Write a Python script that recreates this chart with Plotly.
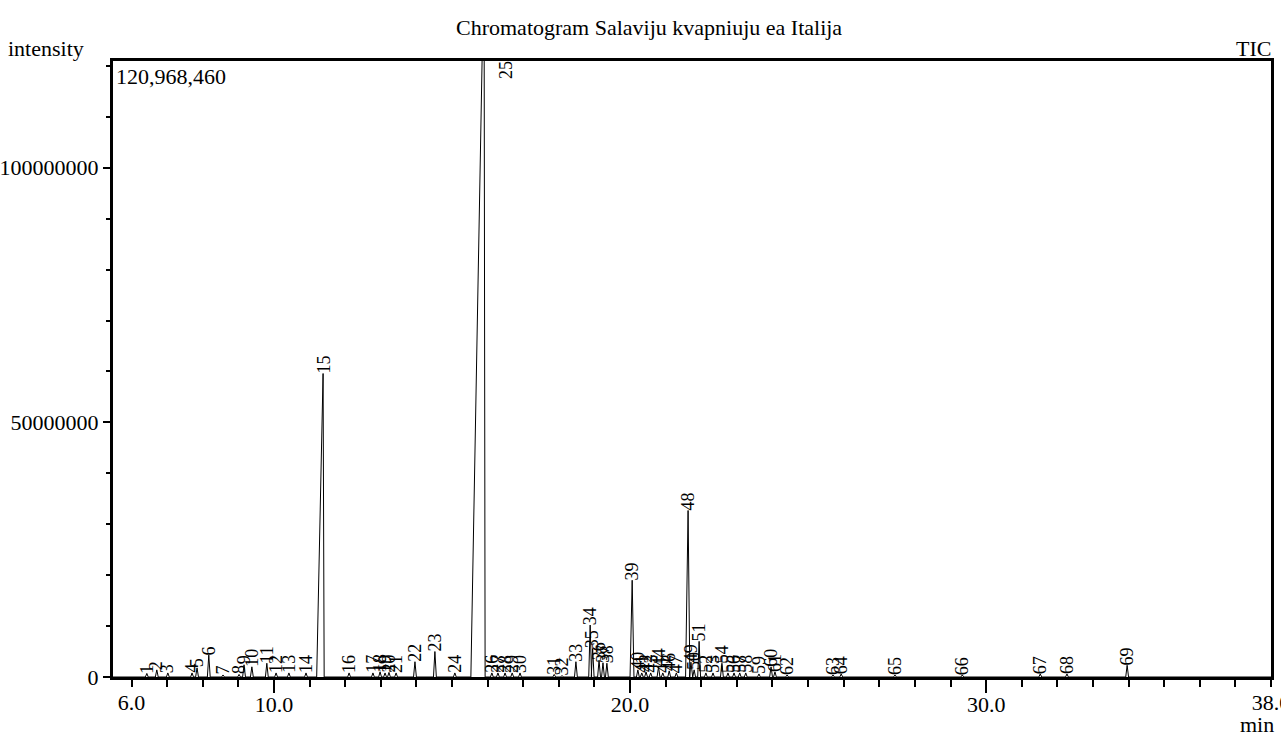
import plotly.graph_objects as go

# ---- data ----
peak_no = list(range(1, 70))
peak_rt = [6.43, 6.71, 7.02, 7.70, 7.84, 8.17, 8.57, 9.02, 9.16, 9.38,
           9.80, 10.06, 10.42, 10.90, 11.38, 12.11, 12.78, 12.98, 13.12, 13.23,
           13.43, 13.96, 14.52, 15.08, 15.90, 16.12, 16.29, 16.49, 16.69, 16.91,
           17.87, 18.09, 18.48, 18.88, 18.95, 19.13, 19.24, 19.35, 20.06, 20.22,
           20.33, 20.45, 20.58, 20.80, 20.92, 21.10, 21.30, 21.63, 21.71, 21.80,
           21.94, 22.13, 22.33, 22.58, 22.75, 22.92, 23.08, 23.25, 23.62, 23.96,
           24.07, 24.41, 25.70, 25.93, 27.44, 29.33, 31.52, 32.27, 33.96]
peak_height = [0.7e6, 1.4e6, 0.8e6, 0.8e6, 1.8e6, 4.3e6, 0.4e6, 0.5e6, 2.4e6, 2.0e6,
               2.7e6, 0.8e6, 0.8e6, 0.8e6, 59.6e6, 0.8e6, 0.8e6, 1.0e6, 0.8e6, 0.9e6,
               0.8e6, 3.0e6, 5.0e6, 0.8e6, 142e6, 0.8e6, 0.8e6, 0.8e6, 0.8e6, 0.8e6,
               0.5e6, 0.3e6, 3.0e6, 10.2e6, 5.6e6, 3.3e6, 2.8e6, 2.7e6, 19.0e6, 1.4e6,
               0.8e6, 1.0e6, 0.8e6, 2.0e6, 0.8e6, 1.2e6, 0.8e6, 32.7e6, 2.9e6, 1.4e6,
               7.0e6, 0.8e6, 0.8e6, 2.7e6, 0.8e6, 0.8e6, 0.8e6, 0.8e6, 0.6e6, 2.0e6,
               1.0e6, 0.4e6, 0.4e6, 0.6e6, 0.4e6, 0.4e6, 0.6e6, 0.6e6, 2.3e6]
# leading (front) and trailing widths of each peak, minutes
peak_lead = {15: 0.18, 25: 0.37, 39: 0.06, 48: 0.07}
peak_fall = {15: 0.03, 25: 0.03, 39: 0.05, 48: 0.05}
default_width = 0.04

run_start, run_end = 5.48, 38.0
y_max = 120968460

x_ticks = [10, 20, 30]
x_ticktext = ["10.0", "20.0", "30.0"]
x_end_ticks = [6, 38]
x_end_ticktext = ["6.0", "38.0"]
y_ticks = [0, 50000000, 100000000]
y_ticktext = ["0", "50000000", "100000000"]

title_text = "Chromatogram Salaviju kvapniuju ea Italija"

# ---- build the trace from the peak table ----
xs, ys = [run_start], [0]
for n, rt, h in zip(peak_no, peak_rt, peak_height):
    lead = peak_lead.get(n, default_width)
    fall = peak_fall.get(n, default_width)
    xs += [rt - lead, rt, rt + fall]
    ys += [0, h, 0]
xs.append(run_end)
ys.append(0)

FONT = "Liberation Serif"
fig = go.Figure()
fig.add_trace(go.Scatter(x=xs, y=ys, mode="lines",
                         line=dict(color="black", width=1), showlegend=False,
                         hoverinfo="skip"))
# invisible trace for the secondary x axis (end labels)
fig.add_trace(go.Scatter(x=[run_start], y=[0], xaxis="x2", mode="markers",
                         marker=dict(opacity=0), showlegend=False, hoverinfo="skip"))

L, R, T, B = 113, 10, 61, 61
W, H = 1281, 738
pw, ph = W - L - R, H - T - B


def px(xp):
    return (xp - L) / pw


def py(yp):
    return (H - B - yp) / ph


annotations = []
for n, rt, h in zip(peak_no, peak_rt, peak_height):
    if h > y_max:
        annotations.append(dict(x=rt, y=y_max, xref="x", yref="y", text=str(n),
                                textangle=-90, showarrow=False, xanchor="center",
                                yanchor="top", xshift=22, yshift=2,
                                font=dict(family=FONT, size=18, color="black")))
    else:
        annotations.append(dict(x=rt, y=h, xref="x", yref="y", text=str(n),
                                textangle=-90, showarrow=False, xanchor="center",
                                yanchor="bottom", yshift=-2,
                                font=dict(family=FONT, size=18, color="black")))

txtfont = dict(family=FONT, size=22, color="black")
annotations += [
    dict(text=title_text, xref="paper", yref="paper", x=px(649), y=py(28),
         xanchor="center", yanchor="middle", showarrow=False, font=txtfont),
    dict(text="intensity", xref="paper", yref="paper", x=px(6), y=py(48),
         xanchor="left", yanchor="middle", showarrow=False, font=txtfont),
    dict(text="TIC", xref="paper", yref="paper", x=px(1273), y=py(48),
         xanchor="right", yanchor="middle", showarrow=False, font=txtfont),
    dict(text="120,968,460", xref="paper", yref="paper", x=px(114), y=py(62),
         xanchor="left", yanchor="top", showarrow=False, font=txtfont),
    dict(text="min", xref="paper", yref="paper", x=px(1257), y=py(724),
         xanchor="center", yanchor="middle", showarrow=False, font=txtfont),
]

fig.update_layout(
    width=W, height=H,
    margin=dict(l=L, r=R, t=T, b=B, autoexpand=False),
    paper_bgcolor="white", plot_bgcolor="white",
    showlegend=False,
    font=dict(family=FONT, size=22, color="black"),
    xaxis=dict(range=[run_start, run_end], tickvals=x_ticks, ticktext=x_ticktext,
               ticks="outside", ticklen=13, tickwidth=2, tickcolor="black",
               minor=dict(dtick=1, tick0=0, ticks="outside", ticklen=7,
                          tickwidth=2, tickcolor="black"),
               ticklabelstandoff=-7,
               showline=True, linewidth=2.5, linecolor="black", mirror=True,
               showgrid=False, zeroline=False, automargin=False,
               tickfont=txtfont),
    xaxis2=dict(range=[run_start, run_end], overlaying="x", anchor="y", side="bottom",
                tickvals=x_end_ticks, ticktext=x_end_ticktext,
                ticks="outside", ticklen=7, tickwidth=2, tickcolor="black",
                ticklabelstandoff=-1, ticklabeloverflow="allow",
                showline=False, showgrid=False, zeroline=False, automargin=False,
                tickfont=txtfont),
    yaxis=dict(range=[0, y_max], tickvals=y_ticks, ticktext=y_ticktext,
               ticks="outside", ticklen=7, tickwidth=2, tickcolor="black",
               minor=dict(dtick=10000000, tick0=0, ticks="outside", ticklen=4,
                          tickwidth=2, tickcolor="black"),
               ticklabeloverflow="allow",
               showline=True, linewidth=3, linecolor="black", mirror=True,
               showgrid=False, zeroline=False, automargin=False,
               tickfont=txtfont),
    annotations=annotations,
)

fig.write_html("out.html", config={"displayModeBar": False},
               post_script="document.body.style.margin='0px';"
                           "document.body.style.overflow='hidden';")
